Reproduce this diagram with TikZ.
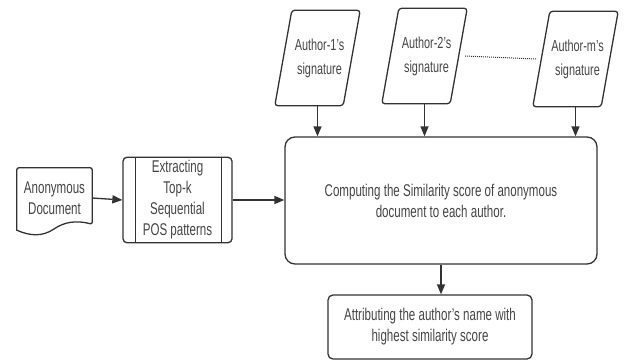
\documentclass[tikz,border=0pt]{standalone}
\usepackage{fontspec}
\setmainfont{Liberation Sans}[FakeStretch=0.68]
\usepackage{tikz}
\usetikzlibrary{arrows.meta,calc}
\definecolor{edge}{HTML}{333333}
\definecolor{ink}{HTML}{454545}
\tikzset{
  line/.style={draw=edge, line width=1.3pt},
  arr/.style={line, -{Triangle[length=10pt,width=8pt]}},
  sig/.style={minimum width=85pt, minimum height=95pt, inner sep=0pt, align=center,
    text=ink, font=\fontsize{16}{24}\selectfont},
  box/.style={line, rectangle, align=center, text=ink, font=\fontsize{17}{21}\selectfont},
}
\begin{document}
\begin{tikzpicture}[x=1pt,y=-1pt]
\useasboundingbox (0,0) rectangle (627,361);
% input document
\node[align=center, text=ink, font=\fontsize{17}{21}\selectfont, minimum width=75pt, minimum height=60pt, inner sep=0pt] (doc) at (54.5,198) {Anonymous\\Document};
\draw[line, rounded corners=2pt] (doc.north west) -- (doc.north east) -- ($(doc.south east)+(0,-4)$)
  [sharp corners] .. controls (76,220) and (64,222) .. (54,229) .. controls (42,237) and (30,236) .. ($(doc.south west)+(0,2)$) [rounded corners=2pt] -- cycle;
% pattern extraction
\node[box, rounded corners=4pt, minimum width=109pt, minimum height=80pt] (ext) at (177.5,200) {Extracting\\Top-k\\Sequential\\POS patterns};
\draw[line] ($(ext.north west)+(13,0)$) -- ($(ext.south west)+(13,0)$);
\draw[line] ($(ext.north east)+(-11,0)$) -- ($(ext.south east)+(-11,0)$);
% signatures
\node[sig] (s1) at (317.5,58) {\hspace{4pt}Author-1's\\\hspace{4pt}signature};
\node[sig] (s2) at (424.5,56) {\hspace{4pt}Author-2's\\\hspace{4pt}signature};
\node[sig] (sm) at (575.5,59) {\hspace{4pt}Author-m's\\\hspace{4pt}signature};
\foreach \s in {s1,s2,sm}
  \draw[line, rounded corners=3pt] (\s.south west) -- ($(\s.north west)+(17,0)$) -- (\s.north east) -- ($(\s.south east)+(-17,0)$) -- cycle;
\draw[edge, densely dotted, line width=1pt] ($(s2.east)+(-2,0)$) -- ($(sm.west)+(4,0)$);
% similarity and attribution
\node[box, rounded corners=10pt, minimum width=312pt, minimum height=127pt] (big) at (441,200.5) {Computing the Similarity score of anonymous\\document to each author.};
\node[box, rounded corners=5pt, minimum width=204pt, minimum height=64pt] (res) at (430,327) {Attributing the author's name with\\highest similarity score};
\draw[arr] (doc.east) -- (ext.west);
\draw[arr] (ext.east) -- (ext.east -| big.west);
\draw[arr] (s1) -- (s1 |- big.north);
\draw[arr] (s2) -- (s2 |- big.north);
\draw[arr] (sm) -- (sm |- big.north);
\draw[arr] (big.south -| 441,0) -- (441,0 |- res.north);
\end{tikzpicture}
\end{document}
